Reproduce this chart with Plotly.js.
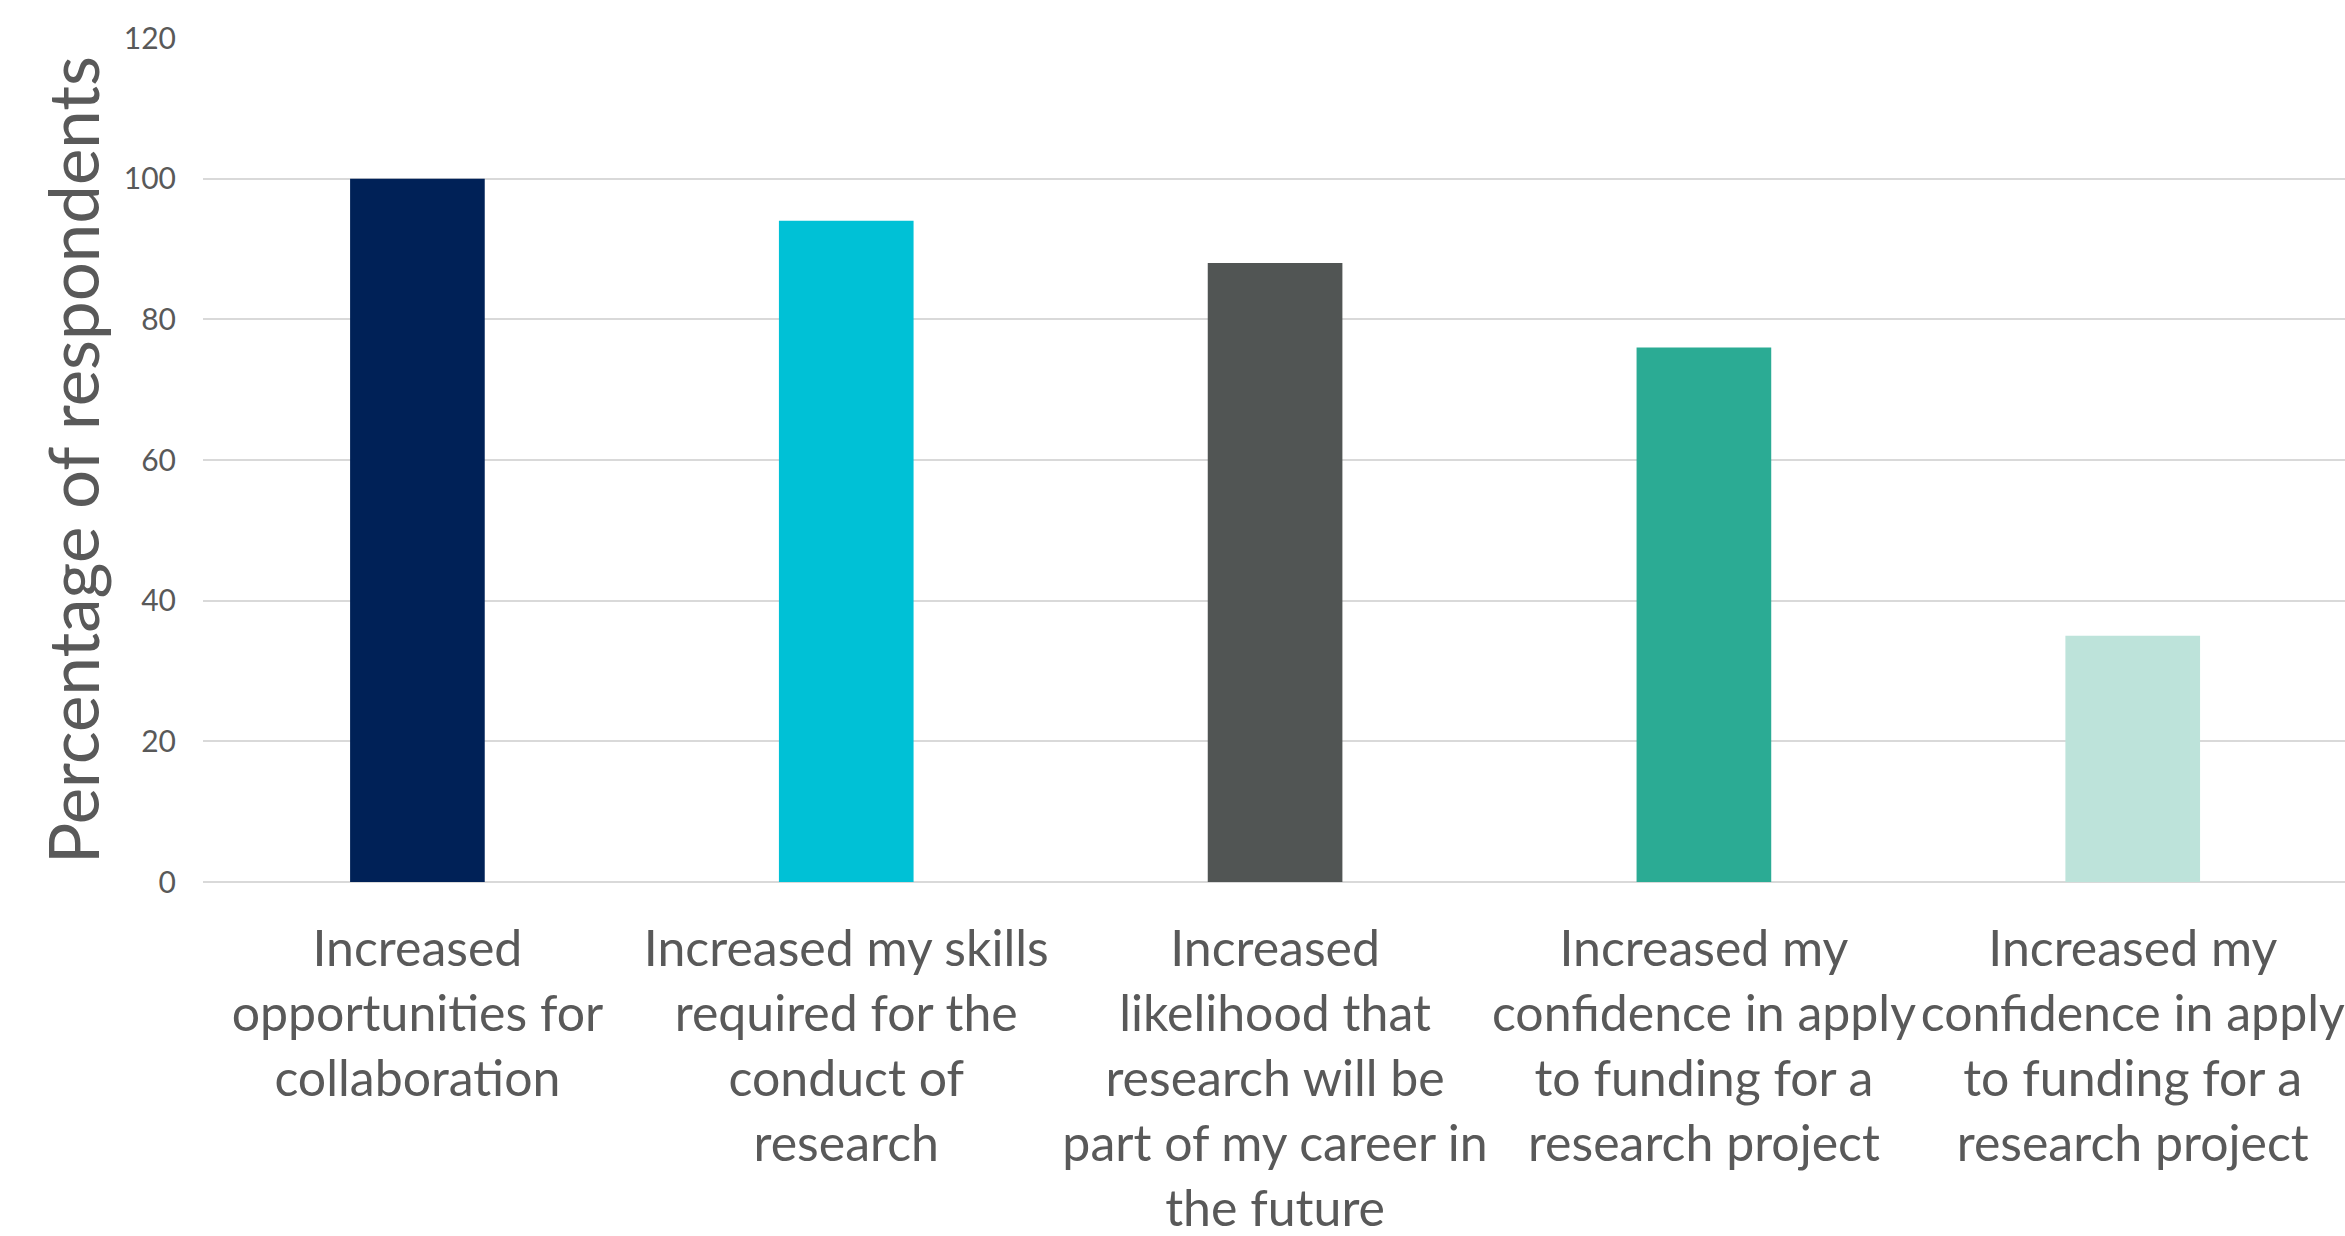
<!DOCTYPE html>
<html>
<head>
<meta charset="utf-8">
<script src="https://cdn.plot.ly/plotly-3.0.1.min.js"></script>
<style>
  html, body { margin: 0; padding: 0; background: #ffffff; }
  #chart { width: 2345px; height: 1236px; }
</style>
</head>
<body>
<div id="chart"></div>
<script>
const categories = [0, 1, 2, 3, 4];
const tickLabels = [
  "Increased<br>opportunities for<br>collaboration",
  "Increased my skills<br>required for the<br>conduct of<br>research",
  "Increased<br>likelihood that<br>research will be<br>part of my career in<br>the future",
  "Increased my<br>confidence in apply<br>to funding for a<br>research project",
  "Increased my<br>confidence in apply<br>to funding for a<br>research project"
];
const percentages = [100, 94, 88, 76, 35];
const barColors = ["#002157", "#00C1D6", "#515554", "#2BAB94", "#BDE3DA"];
const yTickValues = [0, 20, 40, 60, 80, 100, 120];

const FONT = "Lato, Open Sans, sans-serif";

const trace = {
  type: "bar",
  x: categories,
  y: percentages,
  marker: { color: barColors, line: { width: 0 } },
  width: 0.314,
  hoverinfo: "skip"
};

const layout = {
  width: 2345,
  height: 1236,
  margin: { l: 203, r: 0, t: 38, b: 354, pad: 0 },
  paper_bgcolor: "#ffffff",
  plot_bgcolor: "#ffffff",
  showlegend: false,
  font: { family: FONT, color: "#595959" },
  xaxis: {
    range: [-0.5, 4.495],
    tickvals: categories,
    ticktext: tickLabels,
    tickangle: 0,
    showgrid: false,
    zeroline: false,
    showline: false,
    ticks: "",
    tickfont: { family: FONT, size: 50, color: "#595959" },
    ticklabelstandoff: 33,
    ticklabeloverflow: "allow",
    automargin: false
  },
  yaxis: {
    range: [0, 120],
    tickvals: yTickValues,
    ticktext: yTickValues.map(String),
    showgrid: true,
    gridcolor: "#D9D9D9",
    gridwidth: 2,
    zeroline: true,
    zerolinecolor: "#D9D9D9",
    zerolinewidth: 2,
    showline: false,
    ticks: "",
    tickfont: { family: FONT, size: 30, color: "#595959" },
    ticklabelstandoff: 26,
    automargin: false,
    title: {
      text: "Percentage of respondents",
      font: { family: FONT, size: 69, color: "#595959" },
      standoff: 1
    }
  }
};

Plotly.newPlot("chart", [trace], layout, { displayModeBar: false, staticPlot: true });
</script>
</body>
</html>
